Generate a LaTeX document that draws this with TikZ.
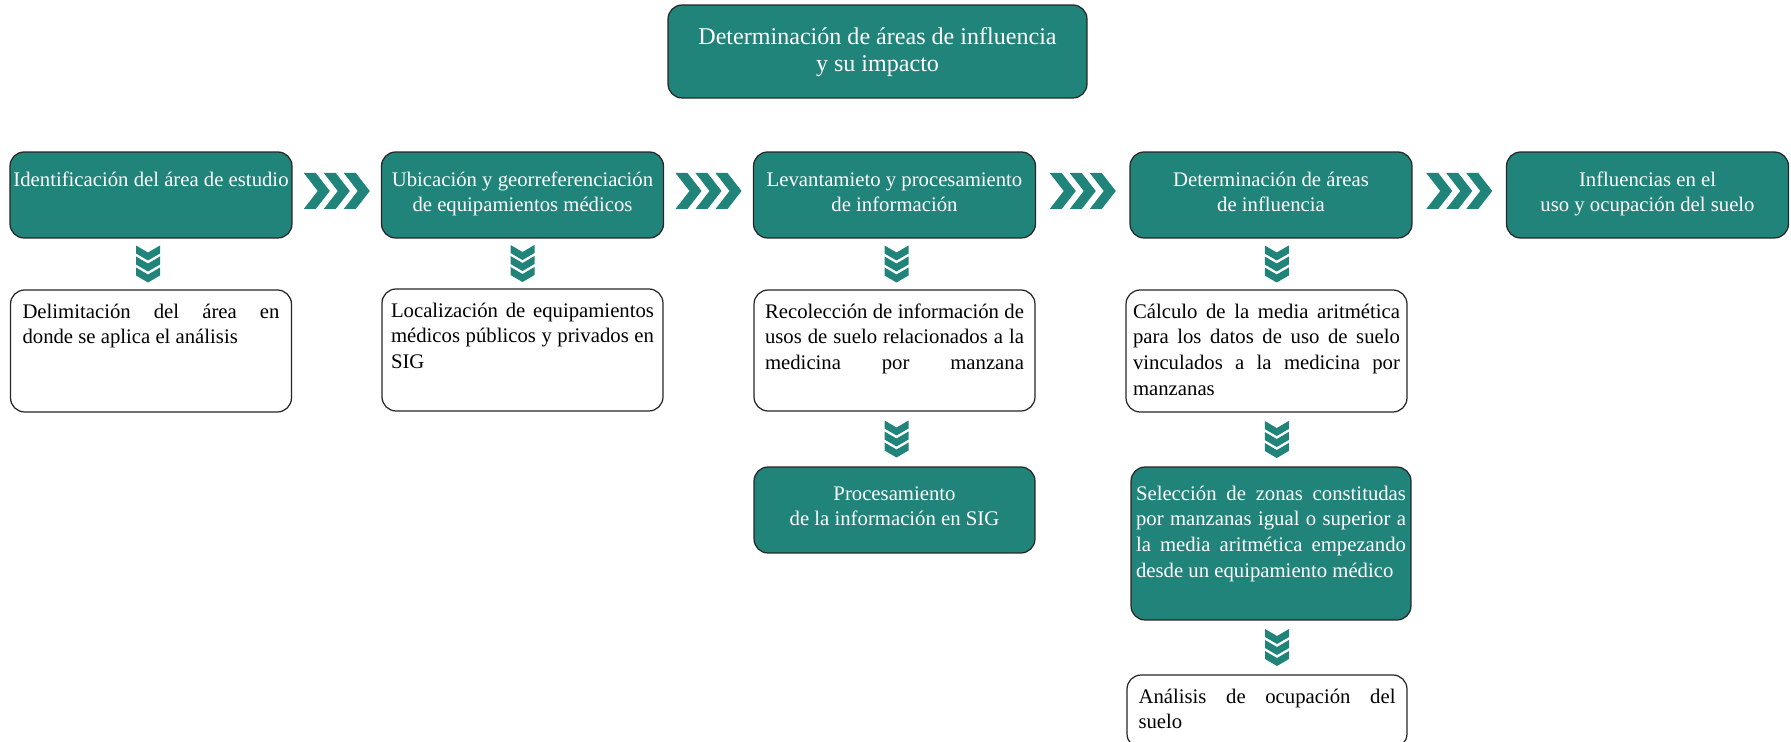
\documentclass[tikz,border=0pt]{standalone}
\usepackage{fontspec}
\setmainfont{Liberation Serif}
\usetikzlibrary{calc}
\definecolor{infteal}{HTML}{21847B}
\tikzstyle{titlebox}=[rectangle,rounded corners=8pt,draw=black!85,line width=0.7pt,fill=infteal,text=white,inner sep=0pt,minimum width=8.38cm,font=\fontsize{13.7}{15.1}\selectfont]
\tikzstyle{headbox}=[titlebox,minimum width=5.64cm,font=\fontsize{11.8}{14.2}\selectfont]
\tikzstyle{notebox}=[headbox,fill=white,text=black,minimum width=5.62cm,font=\fontsize{11.8}{14.7}\selectfont]
\tikzstyle{stepbox}=[notebox,fill=infteal,text=white]
\tikzset{
  rchev/.pic={\foreach \k in {0,1,2}
    \fill[infteal] ({-33+20*\k},-18) -- ++(12,0) -- ++(14,18) -- ++(-14,18) -- ++(-12,0) -- ++(14,-18) -- cycle;},
  dchev/.pic={\foreach \k in {0,1,2}
    \fill[infteal] (-12,{-18.5+11*\k}) -- ++(12,7) -- ++(12,-7) -- ++(0,8) -- ++(-12,7) -- ++(-12,-7) -- cycle;}
}
\begin{document}
\begin{tikzpicture}[x=0.02cm,y=-0.02cm]
\useasboundingbox (0,0) rectangle (1791,742);
% title of the scheme
\node[titlebox] (title) at (877.5,51.5) {\parbox[c][1.86cm][t]{8.2cm}{\centering\rule{0pt}{0.8cm}Determinación de áreas de influencia\\y su impacto}};

% main steps
\foreach \pos/\name/\txt in {{(151,195)/area/Identificación del área de estudio},
    {(522.5,195)/ubic/Ubicación y georreferenciación\\de equipamientos médicos},
    {(894.5,195)/levan/Levantamieto y procesamiento\\de información},
    {(1271,195)/deter/Determinación de áreas\\de influencia},
    {(1647.5,195)/influ/Influencias en el\\uso y ocupación del suelo}}
  \node[headbox] (\name) at \pos {\parbox[c][1.72cm][t]{5.6cm}{\centering\rule{0pt}{0.69cm}\txt}};

% detail boxes below the steps
\node[notebox] (delim) at (151,351) {\parbox[c][2.44cm][t]{5.14cm}{\rule{0pt}{0.56cm}Delimitación del área en\linebreak donde se aplica el análisis}};
\node[notebox] (local) at (522.5,350) {\parbox[c][2.44cm][t]{5.26cm}{\rule{0pt}{0.56cm}Localización de equipamientos\linebreak médicos públicos y privados en\linebreak SIG}};
\node[notebox] (recol) at (894.5,350.5) {\parbox[c][2.42cm][t]{5.18cm}{\parfillskip=0pt\rule{0pt}{0.56cm}Recolección de información de\linebreak usos de suelo relacionados a la\linebreak medicina por manzana}};
\node[stepbox] (proce) at (894.5,510) {\parbox[c][1.72cm][t]{5.5cm}{\centering\rule{0pt}{0.66cm}Procesamiento\\de la información en SIG}};
\node[notebox] (calcu) at (1266.5,351) {\parbox[c][2.44cm][t]{5.34cm}{\rule{0pt}{0.56cm}Cálculo de la media aritmética\linebreak para los datos de uso de suelo\linebreak vinculados a la medicina por\linebreak manzanas}};
\node[stepbox,minimum width=5.6cm] (selec) at (1271,543.5) {\parbox[c][3.06cm][t]{5.4cm}{\rule{0pt}{0.66cm}Selección de zonas constitudas\linebreak por manzanas igual o superior a\linebreak la media aritmética empezando\linebreak desde un equipamiento médico}};
\node[notebox,minimum width=5.6cm] (analis) at (1267,711.5) {\parbox[c][1.46cm][t]{5.14cm}{\rule{0pt}{0.56cm}Análisis de ocupación del\linebreak suelo}};

% chevrons between the boxes
\foreach \a/\b in {area/ubic,ubic/levan,levan/deter,deter/influ}
  \path ($(\a.east)!0.5!(\b.west)$) ++(0,-4) pic {rchev};
\foreach \a/\b/\dx in {area/delim/-3,ubic/local/0,levan/recol/2,recol/proce/2,deter/calcu/8,calcu/selec/8,selec/analis/8}
  \path ($(\a.south)!0.5!(\b.north)$) ++(\dx,0) pic {dchev};
\end{tikzpicture}
\end{document}
